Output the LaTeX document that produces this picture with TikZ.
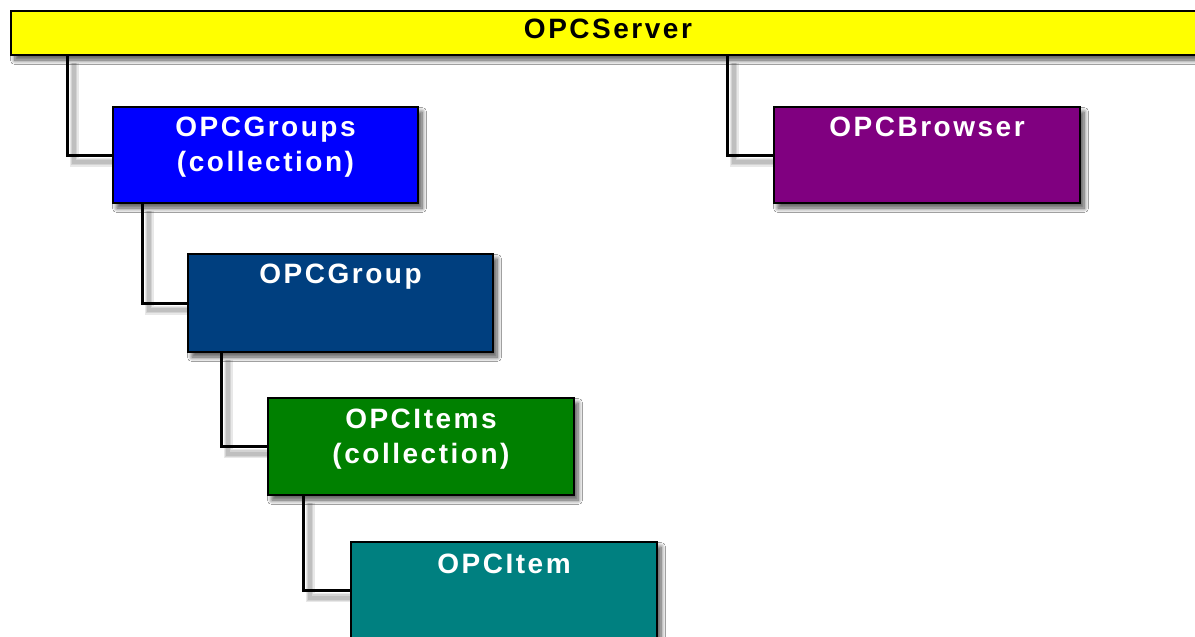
\documentclass[tikz,border=0pt]{standalone}
\usepackage{fontspec}
\newfontfamily\boxfont{Liberation Sans}[LetterSpace=9]
\usetikzlibrary{shadows.blur}
\definecolor{srvyellow}{HTML}{FFFF00}
\definecolor{grpsblue}{HTML}{0000FF}
\definecolor{brwpurple}{HTML}{800080}
\definecolor{grpnavy}{HTML}{003F7F}
\definecolor{itmsgreen}{HTML}{008000}
\definecolor{itmteal}{HTML}{008080}
\tikzset{
  objbox/.style={draw=black, line width=1.3pt, inner sep=0pt,
    minimum width=305pt, minimum height=96pt,
    blur shadow={shadow xshift=4pt, shadow yshift=-5pt,
      shadow blur steps=8, shadow blur radius=4.5pt, shadow opacity=40}},
  caption/.style={anchor=north, inner sep=0pt, align=center, text=white,
    font=\boxfont\bfseries\fontsize{28}{35}\selectfont},
  wire/.style={draw=black, line width=3pt},
  wireshade/.style={draw=black, line width=#1, opacity=0.09,
    transform canvas={xshift=7pt, yshift=-7pt}}
}
\begin{document}
\begin{tikzpicture}[x=1pt, y=-1pt]
\useasboundingbox[fill=white] (0,0) rectangle (1195,637);

% object boxes (placed first so the wires can refer to them)
\path
  node[objbox, fill=srvyellow, minimum width=1194pt, minimum height=44pt] (srv) at (608,33) {}
  node[objbox, fill=grpsblue, minimum width=305pt] (grps) at (265.5,155) {}
  node[objbox, fill=brwpurple, minimum width=306pt] (brw) at (927,155) {}
  node[objbox, fill=grpnavy, minimum height=98pt] (grp) at (340.5,303) {}
  node[objbox, fill=itmsgreen, minimum width=306pt, minimum height=97pt] (itms) at (421,446.5) {}
  node[objbox, fill=itmteal, minimum width=306pt, minimum height=97pt] (itm) at (504,590.5) {};

% drop points of the tree lines
\coordinate (xgrps) at (67,0);
\coordinate (xbrw) at (727,0);
\coordinate (xgrp) at (142,0);
\coordinate (xitms) at (221,0);
\coordinate (xitm) at (303,0);

% soft shadows of the tree lines, built up from a few translucent strokes
\foreach \w in {9pt,6.5pt,4pt} {
  \draw[wireshade=\w] (srv.south -| xgrps) |- (grps.west);
  \draw[wireshade=\w] (srv.south -| xbrw) |- (brw.west);
  \draw[wireshade=\w] (grps.south -| xgrp) |- (grp.west);
  \draw[wireshade=\w] (grp.south -| xitms) |- (itms.west);
  \draw[wireshade=\w] (itms.south -| xitm) |- (itm.west);
}

% tree lines
\draw[wire] (srv.south -| xgrps) |- (grps.west);
\draw[wire] (srv.south -| xbrw) |- (brw.west);
\draw[wire] (grps.south -| xgrp) |- (grp.west);
\draw[wire] (grp.south -| xitms) |- (itms.west);
\draw[wire] (itms.south -| xitm) |- (itm.west);

% boxes redrawn on top of the lines
\path
  node[objbox, fill=srvyellow, minimum width=1194pt, minimum height=44pt] (srvf) at (srv) {}
  node[objbox, fill=grpsblue, minimum width=305pt] (grpsf) at (grps) {}
  node[objbox, fill=brwpurple, minimum width=306pt] (brwf) at (brw) {}
  node[objbox, fill=grpnavy, minimum height=98pt] (grpf) at (grp) {}
  node[objbox, fill=itmsgreen, minimum width=306pt, minimum height=97pt] (itmsf) at (itms) {}
  node[objbox, fill=itmteal, minimum width=306pt, minimum height=97pt] (itmf) at (itm) {};

% captions
\node[caption, text=black] (srvT) at ([yshift=-8pt]srv.north -| 608,0) {OPCServer};
\node[caption] (grpsT) at ([yshift=-10pt]grps.north) {OPCGroups\\(collection)};
\node[caption] (brwT) at ([yshift=-10pt]brw.north) {OPCBrowser};
\node[caption] (grpT) at ([yshift=-10pt]grp.north) {OPCGroup};
\node[caption] (itmsT) at ([yshift=-11pt]itms.north) {OPCItems\\(collection)};
\node[caption] (itmT) at ([yshift=-12pt]itm.north) {OPCItem};
\end{tikzpicture}
\end{document}
